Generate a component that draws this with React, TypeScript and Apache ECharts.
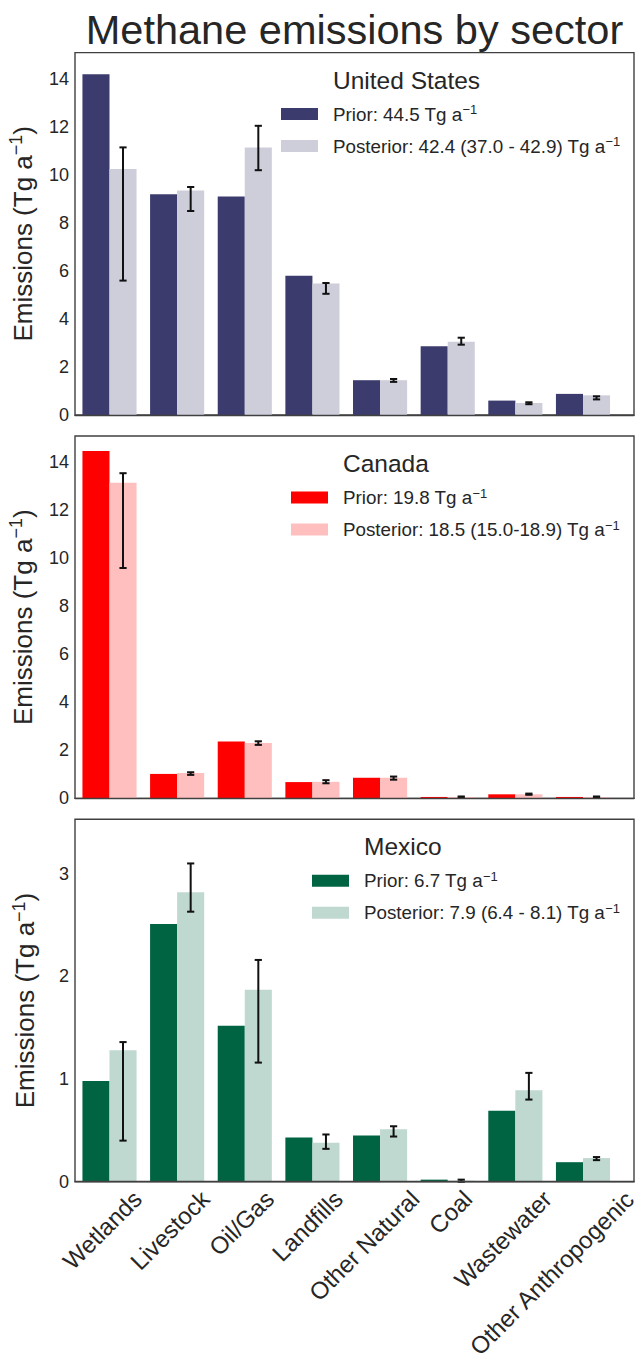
import React, { useEffect, useRef } from 'react';
import * as echarts from 'echarts';

const FONT = '"Liberation Sans", Arial, Helvetica, sans-serif';
const TEXT = '#262626';
const FRAME = '#404040';

// ---- data ----
const sectors = ['Wetlands', 'Livestock', 'Oil/Gas', 'Landfills', 'Other Natural', 'Coal', 'Wastewater', 'Other Anthropogenic'];

const usPrior = [14.2, 9.2, 9.1, 5.8, 1.45, 2.86, 0.6, 0.88];
const usPosterior = [10.25, 9.35, 11.15, 5.48, 1.45, 3.05, 0.5, 0.82];
const usErrLow = [5.6, 8.5, 10.2, 5.05, 1.38, 2.93, 0.45, 0.65];
const usErrHigh = [11.15, 9.5, 12.05, 5.5, 1.5, 3.22, 0.53, 0.78];

const caPrior = [14.48, 1.02, 2.37, 0.68, 0.86, 0.06, 0.17, 0.06];
const caPosterior = [13.15, 1.06, 2.31, 0.69, 0.86, 0.06, 0.17, 0.05];
const caErrLow = [9.6, 0.98, 2.23, 0.63, 0.78, 0.03, 0.15, 0.03];
const caErrHigh = [13.55, 1.09, 2.38, 0.76, 0.91, 0.08, 0.2, 0.08];

const mxPrior = [0.98, 2.51, 1.52, 0.43, 0.45, 0.02, 0.69, 0.19];
const mxPosterior = [1.28, 2.82, 1.87, 0.38, 0.51, 0.01, 0.89, 0.23];
const mxErrLow = [0.4, 2.63, 1.16, 0.32, 0.44, 0.0, 0.8, 0.21];
const mxErrHigh = [1.36, 3.1, 2.16, 0.46, 0.54, 0.02, 1.06, 0.24];

const countries = ['United States', 'Canada', 'Mexico'];
const usLegend = ['Prior: 44.5 Tg a⁻¹', 'Posterior: 42.4 (37.0 - 42.9) Tg a⁻¹'];
const caLegend = ['Prior: 19.8 Tg a⁻¹', 'Posterior: 18.5 (15.0-18.9) Tg a⁻¹'];
const mxLegend = ['Prior: 6.7 Tg a⁻¹', 'Posterior: 7.9 (6.4 - 8.1) Tg a⁻¹'];

const largeYTicks = [0, 2, 4, 6, 8, 10, 12, 14];
const smallYTicks = [0, 1, 2, 3];
const sectorIndex = [0, 1, 2, 3, 4, 5, 6, 7];

// ---- layout ----
const GRID_LEFT = 75;
const GRID_WIDTH = 559;
const GRID_HEIGHT = 362.4;
const X_MIN = -0.51;
const X_MAX = 7.754;
const BAR_W = 0.4;
const LABEL_SIZE = 24;
const LABEL_GAP = 7;

const panels = [
  { title: countries[0], prior: usPrior, post: usPosterior, lo: usErrLow, hi: usErrHigh, legend: usLegend, colors: ['#3b3b6d', '#cecedb'], yMax: 15.1, yTicks: largeYTicks, top: 52.6, legendLeft: 281 },
  { title: countries[1], prior: caPrior, post: caPosterior, lo: caErrLow, hi: caErrHigh, legend: caLegend, colors: ['#ff0000', '#ffbfbf'], yMax: 15.1, yTicks: largeYTicks, top: 436, legendLeft: 291 },
  { title: countries[2], prior: mxPrior, post: mxPosterior, lo: mxErrLow, hi: mxErrHigh, legend: mxLegend, colors: ['#006442', '#bfd8d0'], yMax: 3.53, yTicks: smallYTicks, top: 819.3, legendLeft: 312 },
];

function textWidth(s: string, size: number): number {
  const ctx = document.createElement('canvas').getContext('2d');
  if (!ctx) return s.length * size * 0.5;
  ctx.font = `${size}px "Liberation Sans", Arial, sans-serif`;
  return ctx.measureText(s).width;
}

function barSeries(name: string, values: number[], color: string, g: number, offset: number) {
  return {
    type: 'custom',
    name,
    xAxisIndex: g,
    yAxisIndex: g,
    itemStyle: { color },
    encode: { x: 0, y: 1 },
    data: values.map((v, i) => [i, v]),
    renderItem: (params: any, api: any) => {
      const i = api.value(0);
      const v = api.value(1);
      const p0 = api.coord([i + offset, v]);
      const p1 = api.coord([i + offset + BAR_W, 0]);
      return {
        type: 'rect',
        shape: { x: p0[0], y: p0[1], width: p1[0] - p0[0], height: p1[1] - p0[1] },
        style: { fill: color },
      };
    },
  };
}

function errorSeries(lo: number[], hi: number[], g: number) {
  return {
    type: 'custom',
    name: 'err' + g,
    xAxisIndex: g,
    yAxisIndex: g,
    z: 3,
    encode: { x: 0, y: [1, 2] },
    data: lo.map((l, i) => [i, l, hi[i]]),
    renderItem: (params: any, api: any) => {
      const i = api.value(0);
      const pLo = api.coord([i + BAR_W / 2, api.value(1)]);
      const pHi = api.coord([i + BAR_W / 2, api.value(2)]);
      const x = pLo[0];
      const cap = 3.6;
      const st = { stroke: '#111111', lineWidth: 2 };
      return {
        type: 'group',
        children: [
          { type: 'line', shape: { x1: x, y1: pLo[1], x2: x, y2: pHi[1] }, style: st },
          { type: 'line', shape: { x1: x - cap, y1: pLo[1], x2: x + cap, y2: pLo[1] }, style: st },
          { type: 'line', shape: { x1: x - cap, y1: pHi[1], x2: x + cap, y2: pHi[1] }, style: st },
        ],
      };
    },
  };
}

function buildOption() {
  // rotated (45°) tick labels: the rotated box top sits a few px under the axis,
  // its centre drifts slightly left for long labels (as in the reference).
  const xRich: Record<string, any> = {};
  sectors.forEach((s, i) => {
    const L = textWidth(s, LABEL_SIZE);
    const dx = 12.4 - 0.197 * L;
    const dy = LABEL_GAP + (L + 17) * 0.3536;
    const P = (dy - dx) / (2 * 0.3536);
    const Q = (dy + dx) / (2 * 0.3536);
    xRich['l' + i] = {
      fontSize: LABEL_SIZE,
      fontFamily: FONT,
      color: TEXT,
      padding: [Math.max(0, Q), Math.max(0, P), 0, 0],
    };
  });

  const grid = panels.map((p) => ({
    left: GRID_LEFT,
    width: GRID_WIDTH,
    top: p.top,
    height: GRID_HEIGHT,
    containLabel: false,
    outerBoundsMode: 'none',
    show: true,
    borderColor: FRAME,
    borderWidth: 1.4,
    backgroundColor: 'transparent',
  }));

  const xAxis = panels.map((p, g) => ({
    type: 'value',
    gridIndex: g,
    min: X_MIN,
    max: X_MAX,
    z: 10,
    splitLine: { show: false },
    axisTick: { show: false },
    axisLine: { show: true, onZero: false, lineStyle: { color: FRAME, width: 1.4 } },
    axisLabel: g === 2
      ? {
          show: true,
          customValues: sectorIndex,
          rotate: 45,
          align: 'center',
          verticalAlign: 'middle',
          margin: 0,
          formatter: (v: number) => {
            const n = Math.round(v);
            return `{l${n}|${sectors[n]}}`;
          },
          rich: xRich,
        }
      : { show: false },
  }));

  const yAxis = panels.map((p, g) => ({
    type: 'value',
    gridIndex: g,
    min: 0,
    max: p.yMax,
    splitLine: { show: false },
    axisTick: { show: false },
    axisLine: { show: false },
    axisLabel: {
      customValues: p.yTicks,
      fontSize: 18,
      color: TEXT,
      fontFamily: FONT,
      margin: 6,
    },
    name: '{t|Emissions (Tg a}{s|−1}{t|)}',
    nameLocation: 'middle',
    nameRotate: 90,
    nameGap: 34.5,
    nameTextStyle: {
      color: TEXT,
      fontFamily: FONT,
      fontSize: 26,
      lineHeight: 31,
      rich: {
        t: { fontSize: 26, fontFamily: FONT, color: TEXT, lineHeight: 31 },
        s: { fontSize: 18, fontFamily: FONT, color: TEXT, verticalAlign: 'top' },
      },
    },
  }));

  const series: any[] = [];
  panels.forEach((p, g) => {
    series.push(barSeries(p.legend[0], p.prior, p.colors[0], g, -BAR_W));
    series.push(barSeries(p.legend[1], p.post, p.colors[1], g, 0));
    series.push(errorSeries(p.lo, p.hi, g));
  });

  const legend = panels.map((p) => ({
    data: p.legend,
    orient: 'vertical',
    left: p.legendLeft,
    top: p.top + 61.5 - 11,
    itemWidth: 37,
    itemHeight: 12,
    itemGap: 10,
    icon: 'rect',
    padding: 0,
    selectedMode: false,
    formatter: (name: string) => `{t|${name.replace('⁻¹', '')}}{s|−1}`,
    textStyle: {
      fontSize: 18.8,
      color: TEXT,
      fontFamily: FONT,
      lineHeight: 22,
      rich: {
        t: { fontSize: 18.8, color: TEXT, fontFamily: FONT, lineHeight: 22, padding: [0, 0, 0, 10] },
        s: { fontSize: 13, color: TEXT, fontFamily: FONT, verticalAlign: 'top' },
      },
    },
  }));

  const graphic: any[] = [
    {
      type: 'text',
      x: GRID_LEFT + GRID_WIDTH / 2,
      y: 29,
      style: {
        text: 'Methane emissions by sector',
        fontSize: 41.5,
        fontFamily: FONT,
        fill: TEXT,
        align: 'center',
        verticalAlign: 'middle',
      },
    },
    ...panels.map((p) => ({
      type: 'text',
      x: p.legendLeft + 52,
      y: p.top + 27.5,
      style: {
        text: p.title,
        fontSize: 24.5,
        fontFamily: FONT,
        fill: TEXT,
        align: 'left',
        verticalAlign: 'middle',
      },
    })),
  ];

  return {
    animation: false,
    backgroundColor: '#ffffff',
    textStyle: { fontFamily: FONT },
    grid,
    xAxis,
    yAxis,
    legend,
    graphic,
    series,
  };
}

export default function App() {
  const ref = useRef<HTMLDivElement>(null);
  useEffect(() => {
    if (!ref.current) return;
    const chart = echarts.init(ref.current, undefined, { renderer: 'svg' });
    chart.setOption(buildOption() as any);
    return () => chart.dispose();
  }, []);
  return (
    <div
      ref={ref}
      style={{ position: 'absolute', left: 0, top: 0, width: 641, height: 1360 }}
    />
  );
}
